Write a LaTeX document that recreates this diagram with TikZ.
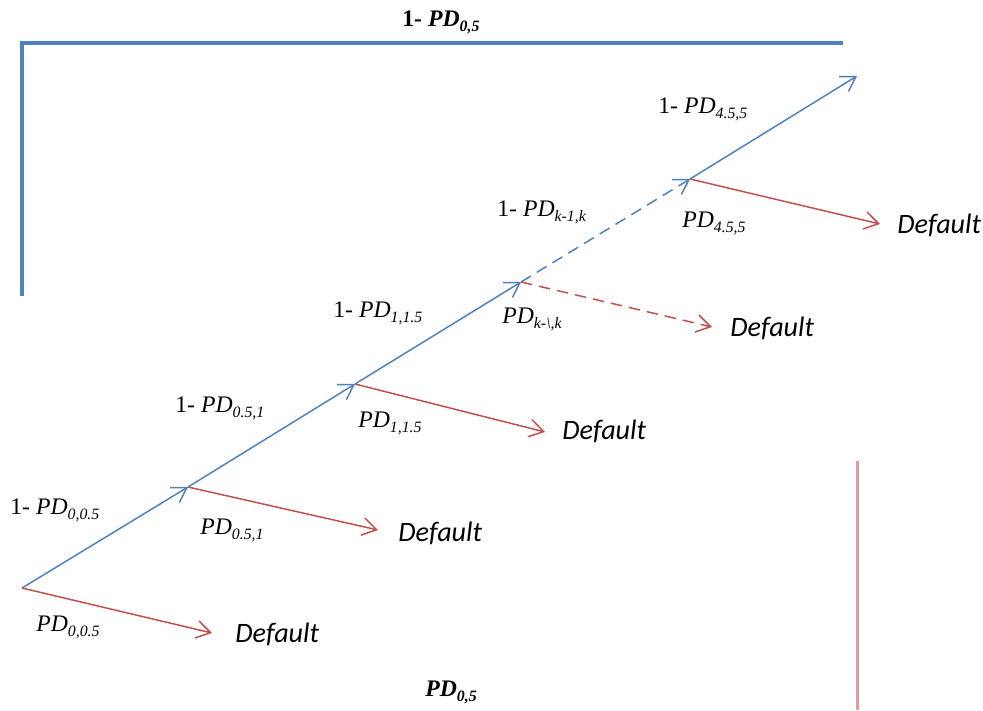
\documentclass[tikz,border=0pt]{standalone}
\usepackage{fontspec}
\setmainfont{Liberation Serif}
\newfontfamily\dflfont{Carlito}
\usetikzlibrary{arrows.meta}
\definecolor{pblue}{HTML}{4F81BD}
\definecolor{pred}{HTML}{C0504D}
\definecolor{ppink}{HTML}{E29A9A}
\newcommand{\pdsub}[1]{{\itshape PD\raisebox{-0.45ex}{\fontsize{9}{10}\selectfont #1}}}
\begin{document}
\begin{tikzpicture}[x=0.02cm,y=-0.02cm,
  lbl/.style={inner sep=0pt,anchor=west,font=\fontsize{13.5}{16}\selectfont},
  dfl/.style={inner sep=0pt,anchor=west,font=\dflfont\itshape\fontsize{16}{19}\selectfont},
  blu/.style={draw=pblue,line width=0.85pt,-{Straight Barb[length=8pt,width=10pt]}},
  rd/.style={draw=pred,line width=0.85pt,-{Straight Barb[length=8pt,width=10pt]}},
  dsh/.style={dash pattern=on 6.5pt off 4pt}]
\useasboundingbox (0,0) rectangle (983,710);
% path points
\coordinate (A0) at (22,588);
\coordinate (A1) at (188,487);
\coordinate (A2) at (355,384);
\coordinate (A3) at (521,282);
\coordinate (A4) at (690,179);
\coordinate (A5) at (857,76);
\coordinate (R0) at (212,633);
\coordinate (R1) at (378,530);
\coordinate (R2) at (545,432);
\coordinate (R3) at (712,327);
\coordinate (R4) at (880,224);
% bracket and bar
\coordinate (B0) at (22,296);
\coordinate (B1) at (22,43);
\coordinate (B2) at (843,43);
\coordinate (P0) at (857,461);
\coordinate (P1) at (857,710);
\draw[pblue,line width=2.3pt] (B0) -- (B1) -- (B2);
\draw[ppink,line width=1.7pt] (P0) -- (P1);
% blue survival arrows
\draw[blu] (A0) -- (A1);
\draw[blu] (A1) -- (A2);
\draw[blu] (A2) -- (A3);
\draw[blu,dsh] (A3) -- (A4);
\draw[blu] (A4) -- (A5);
% red default arrows
\draw[rd] (A0) -- (R0);
\draw[rd] (A1) -- (R1);
\draw[rd] (A2) -- (R2);
\draw[rd,dsh] (A3) -- (R3);
\draw[rd] (A4) -- (R4);
% Default labels
\node[dfl] (d0) at (235,634) {Default};
\node[dfl] (d1) at (398,533) {Default};
\node[dfl] (d2) at (562,431) {Default};
\node[dfl] (d3) at (730,328) {Default};
\node[dfl] (d4) at (897,225) {Default};
% probability labels
\node[lbl] (s0) at (10,510) {1- \pdsub{0,0.5}};
\node[lbl] (p0) at (36,627) {\pdsub{0,0.5}};
\node[lbl] (s1) at (175,408) {1- \pdsub{0.5,1}};
\node[lbl] (p1) at (200,530) {\pdsub{0.5,1}};
\node[lbl] (s2) at (333,313) {1- \pdsub{1,1.5}};
\node[lbl] (p2) at (358,423) {\pdsub{1,1.5}};
\node[lbl] (s3) at (497,212) {1- \pdsub{k-1,k}};
\node[lbl] (p3) at (502,319) {\pdsub{k-\textbackslash,k}};
\node[lbl] (s4) at (658,109) {1- \pdsub{4.5,5}};
\node[lbl] (p4) at (682,223) {\pdsub{4.5,5}};
\node[lbl,font=\bfseries\fontsize{13.5}{16}\selectfont] (top) at (402,22) {1- \pdsub{0,5}};
\node[lbl,font=\bfseries\fontsize{13.5}{16}\selectfont] (bot) at (425,692) {\pdsub{0,5}};
\end{tikzpicture}
\end{document}
